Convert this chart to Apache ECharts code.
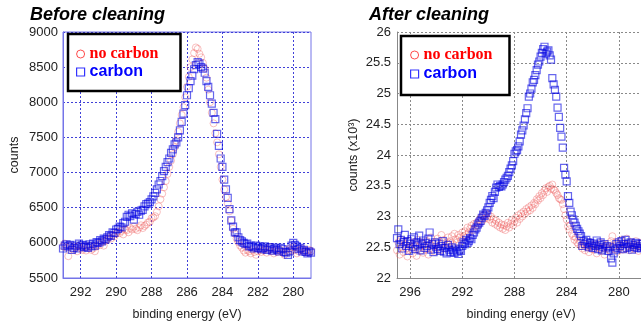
<!DOCTYPE html>
<html>
<head>
<meta charset="utf-8">
<script src="https://cdn.jsdelivr.net/npm/echarts@6/dist/echarts.min.js"></script>
<style>html,body{margin:0;padding:0;background:#fff}#c{width:641px;height:322px}</style>
</head>
<body>
<div id="c"></div>
<script>
// ---------- Left panel: Before cleaning ----------
const leftEnergy = [293.0,
  292.9,292.8,292.7,292.6,292.5,292.4,292.3,292.2,292.1,292.0,
  291.9,291.8,291.7,291.6,291.5,291.4,291.3,291.2,291.1,291.0,
  290.9,290.8,290.7,290.6,290.5,290.4,290.3,290.2,290.1,290.0,
  289.9,289.8,289.7,289.6,289.5,289.4,289.3,289.2,289.1,289.0,
  288.9,288.8,288.7,288.6,288.5,288.4,288.3,288.2,288.1,288.0,
  287.9,287.8,287.7,287.6,287.5,287.4,287.3,287.2,287.1,287.0,
  286.9,286.8,286.7,286.6,286.5,286.4,286.3,286.2,286.1,286.0,
  285.9,285.8,285.7,285.6,285.5,285.4,285.3,285.2,285.1,285.0,
  284.9,284.8,284.7,284.6,284.5,284.4,284.3,284.2,284.1,284.0,
  283.9,283.8,283.7,283.6,283.5,283.4,283.3,283.2,283.1,283.0,
  282.9,282.8,282.7,282.6,282.5,282.4,282.3,282.2,282.1,282.0,
  281.9,281.8,281.7,281.6,281.5,281.4,281.3,281.2,281.1,281.0,
  280.9,280.8,280.7,280.6,280.5,280.4,280.3,280.2,280.1,280.0,
  279.9,279.8,279.7,279.6,279.5,279.4,279.3,279.2,279.1,279.0];

const leftCarbon = [5920,
  5960,5980,5950,5970,5900,5930,5960,5920,5990,5950,
  5970,5940,5960,5930,5980,5950,5990,5960,6010,6000,
  6040,6020,6060,6050,6080,6110,6100,6150,6140,6190,
  6200,6230,6220,6280,6300,6370,6400,6380,6420,6330,
  6410,6440,6400,6460,6470,6520,6550,6560,6580,6620,
  6660,6710,6760,6830,6880,6950,7020,7080,7150,7200,
  7280,7330,7400,7430,7500,7600,7720,7840,7960,8100,
  8200,8300,8380,8470,8530,8570,8550,8500,8480,8420,
  8300,8220,8100,7980,7850,7760,7550,7380,7200,7080,
  6900,6760,6640,6480,6320,6230,6150,6150,6080,6040,
  6020,6000,5980,5990,5950,5960,5940,5920,5960,5930,
  5950,5910,5930,5950,5900,5920,5940,5890,5910,5930,
  5900,5880,5930,5910,5870,5860,5830,5880,5960,6000,
  5970,5950,5910,5930,5880,5900,5870,5850,5880,5860];

const leftNoCarbon = [5950,
  5990,5930,5810,5960,5920,5900,5940,5880,5960,5920,
  5900,5950,5890,5930,5960,5900,5920,5880,5950,5990,
  5970,6010,5960,6030,6050,6080,6060,6110,6090,6130,
  6160,6140,6170,6120,6190,6180,6150,6210,6190,6230,
  6200,6180,6220,6250,6210,6240,6260,6290,6300,6350,
  6360,6380,6440,6520,6620,6700,6790,6880,6980,7080,
  7170,7260,7360,7460,7580,7700,7820,7930,8070,8220,
  8360,8500,8610,8700,8780,8760,8690,8640,8560,8480,
  8350,8180,8000,7850,7700,7560,7430,7260,7080,6900,
  6760,6650,6560,6450,6320,6200,6130,6060,6010,5960,
  5930,5890,5860,5900,5880,5850,5900,5870,5830,5880,
  5910,5870,5890,5920,5860,5900,5940,5880,5850,5900,
  5870,5910,5880,5860,5830,5900,5870,5920,5890,5940,
  5900,5850,5880,5900,5920,5870,5890,5860,5900,5880];

const leftXTicks = [292, 290, 288, 286, 284, 282, 280];

// ---------- Right panel: After cleaning (counts x10^3) ----------
const rightEnergy = [297.0,296.9,296.8,296.7,296.6,296.5,296.4,296.3,296.2,296.1,296.0,
  295.9,295.8,295.7,295.6,295.5,295.4,295.3,295.2,295.1,295.0,
  294.9,294.8,294.7,294.6,294.5,294.4,294.3,294.2,294.1,294.0,
  293.9,293.8,293.7,293.6,293.5,293.4,293.3,293.2,293.1,293.0,
  292.9,292.8,292.7,292.6,292.5,292.4,292.3,292.2,292.1,292.0,
  291.9,291.8,291.7,291.6,291.5,291.4,291.3,291.2,291.1,291.0,
  290.9,290.8,290.7,290.6,290.5,290.4,290.3,290.2,290.1,290.0,
  289.9,289.8,289.7,289.6,289.5,289.4,289.3,289.2,289.1,289.0,
  288.9,288.8,288.7,288.6,288.5,288.4,288.3,288.2,288.1,288.0,
  287.9,287.8,287.7,287.6,287.5,287.4,287.3,287.2,287.1,287.0,
  286.9,286.8,286.7,286.6,286.5,286.4,286.3,286.2,286.1,286.0,
  285.9,285.8,285.7,285.6,285.5,285.4,285.3,285.2,285.1,285.0,
  284.9,284.8,284.7,284.6,284.5,284.4,284.3,284.2,284.1,284.0,
  283.9,283.8,283.7,283.6,283.5,283.4,283.3,283.2,283.1,283.0,
  282.9,282.8,282.7,282.6,282.5,282.4,282.3,282.2,282.1,282.0,
  281.9,281.8,281.7,281.6,281.5,281.4,281.3,281.2,281.1,281.0,
  280.9,280.8,280.7,280.6,280.5,280.4,280.3,280.2,280.1,280.0,
  279.9,279.8,279.7,279.6,279.5,279.4,279.3,279.2,279.1,279.0,
  278.9,278.8,278.7,278.6,278.5,278.4,278.3,278.2,278.1,278.0];

const rightCarbon = [22.65,22.79,22.55,22.62,22.48,22.58,22.70,22.52,22.60,22.44,22.56,
  22.63,22.50,22.66,22.47,22.58,22.53,22.69,22.45,22.55,22.61,
  22.49,22.57,22.52,22.64,22.74,22.46,22.55,22.42,22.58,22.50,
  22.47,22.56,22.44,22.52,22.60,22.43,22.49,22.40,22.54,22.46,
  22.42,22.50,22.45,22.41,22.48,22.43,22.39,22.46,22.44,22.52,
  22.58,22.55,22.62,22.57,22.60,22.65,22.63,22.70,22.74,22.79,
  22.82,22.87,22.90,22.93,22.98,23.03,23.01,23.06,23.10,23.15,
  23.22,23.27,23.33,23.30,23.40,23.47,23.52,23.48,23.50,23.49,
  23.52,23.56,23.60,23.63,23.66,23.72,23.78,23.83,23.90,24.02,
  24.06,24.08,24.14,24.22,24.33,24.40,24.48,24.58,24.68,24.76,
  24.95,25.00,25.08,25.18,25.22,25.30,25.38,25.47,25.52,25.60,
  25.66,25.72,25.76,25.65,25.68,25.70,25.62,25.55,25.25,25.15,
  25.06,24.95,24.77,24.62,24.44,24.30,24.12,23.79,23.68,23.57,
  23.33,23.22,23.08,23.02,22.95,22.90,22.85,22.80,22.76,22.72,
  22.68,22.52,22.60,22.55,22.62,22.58,22.50,22.57,22.53,22.49,
  22.56,22.52,22.61,22.47,22.54,22.58,22.45,22.50,22.55,22.48,
  22.52,22.44,22.50,22.32,22.25,22.40,22.46,22.55,22.49,22.58,
  22.52,22.60,22.47,22.55,22.62,22.49,22.56,22.51,22.58,22.46,
  22.54,22.50,22.57,22.49,22.55,22.52,22.48,22.56,22.50,22.53];

const rightNoCarbon = [22.45,22.58,22.38,22.62,22.50,22.42,22.55,22.48,22.35,22.60,22.52,
  22.47,22.40,22.58,22.52,22.36,22.62,22.49,22.44,22.57,22.41,
  22.53,22.46,22.60,22.38,22.55,22.66,22.48,22.52,22.43,22.59,
  22.64,22.50,22.45,22.70,22.56,22.62,22.48,22.58,22.66,22.54,
  22.60,22.68,22.55,22.72,22.63,22.58,22.70,22.66,22.61,22.74,
  22.68,22.76,22.70,22.82,22.74,22.80,22.85,22.78,22.88,22.84,
  22.90,22.86,22.94,22.98,22.92,23.02,22.96,23.05,22.98,23.03,
  22.95,23.00,22.90,22.96,22.88,22.93,22.85,22.90,22.82,22.87,
  22.80,22.86,22.78,22.84,22.90,22.82,22.88,22.94,22.86,22.92,
  22.98,22.90,23.02,22.96,23.05,23.00,23.08,23.04,23.12,23.08,
  23.15,23.10,23.18,23.14,23.22,23.20,23.28,23.26,23.33,23.30,
  23.38,23.35,23.42,23.46,23.40,23.48,23.50,23.45,23.52,23.44,
  23.42,23.38,23.35,23.30,23.28,23.27,23.20,23.12,23.02,22.95,
  22.84,22.79,22.86,22.72,22.68,22.62,22.66,22.58,22.55,22.60,
  22.52,22.48,22.56,22.45,22.54,22.50,22.42,22.58,22.47,22.53,
  22.46,22.55,22.40,22.52,22.48,22.57,22.44,22.50,22.38,22.53,
  22.49,22.56,22.45,22.60,22.68,22.52,22.47,22.58,22.43,22.55,
  22.50,22.62,22.46,22.55,22.48,22.64,22.52,22.45,22.58,22.50,
  22.54,22.47,22.60,22.52,22.44,22.56,22.50,22.58,22.46,22.52];

const rightXTicks = [296, 292, 288, 284, 280];

// ---------- Build chart ----------
const pair = (xs, ys) => xs.map((x, i) => [x, ys[i]]);
const FONT = 'Liberation Sans';
const redStyle = {color: 'rgba(0,0,0,0)', borderColor: 'rgba(235,80,80,0.45)', borderWidth: 1};
const blueStyle = {color: 'rgba(0,0,0,0)', borderColor: 'rgba(0,0,225,0.75)', borderWidth: 1.2};
const legendData = [
  {name: 'no carbon', icon: 'circle',
   itemStyle: {color: 'rgba(0,0,0,0)', borderColor: '#ff2020', borderWidth: 1},
   textStyle: {color: '#ff0000', fontFamily: 'Liberation Serif', fontWeight: 'bold', fontSize: 16}},
  {name: 'carbon', icon: 'rect',
   itemStyle: {color: 'rgba(0,0,0,0)', borderColor: '#0000ff', borderWidth: 1.2},
   textStyle: {color: '#0000ff', fontFamily: FONT, fontWeight: 'bold', fontSize: 16}}
];
const blueGrid = {show: true, lineStyle: {color: '#4040d8', type: [2, 2], width: 1}};
const grayGrid = {show: true, lineStyle: {color: '#8a8a8a', type: [2, 2], width: 1}};
const lbl = {color: '#222', fontSize: 13, fontFamily: FONT, formatter: v => String(v)};
const nm = {color: '#222', fontSize: 12.5, fontFamily: FONT};

const chart = echarts.init(document.getElementById('c'), null, {renderer: 'canvas'});
chart.setOption({
  animation: false,
  backgroundColor: '#fff',
  title: [
    {text: 'Before cleaning', left: 30, top: 6, padding: 0,
     textStyle: {fontFamily: FONT, fontStyle: 'italic', fontWeight: 'bold', fontSize: 18, color: '#000'}},
    {text: 'After cleaning', left: 369, top: 6, padding: 0,
     textStyle: {fontFamily: FONT, fontStyle: 'italic', fontWeight: 'bold', fontSize: 18, color: '#000'}}
  ],
  legend: [
    {left: 68, top: 34, orient: 'vertical', padding: [12, 22, 11, 8], itemGap: 2,
     itemWidth: 8, itemHeight: 8, borderColor: '#000', borderWidth: 2.5, backgroundColor: '#fff',
     selectedMode: false, data: legendData},
    {left: 401, top: 36, orient: 'vertical', padding: [11, 17, 13, 9], itemGap: 3,
     itemWidth: 8, itemHeight: 8, borderColor: '#000', borderWidth: 2.5, backgroundColor: '#fff',
     selectedMode: false, data: legendData}
  ],
  grid: [
    {left: 63, top: 32, width: 248, height: 246, outerBoundsMode: 'none', containLabel: false,
     show: true, borderColor: '#7474e8', borderWidth: 1},
    {left: 397, top: 32, right: -4, height: 246, outerBoundsMode: 'none', containLabel: false}
  ],
  xAxis: [
    {type: 'value', gridIndex: 0, min: 279, max: 293, inverse: true,
     axisLine: {show: true, lineStyle: {color: '#7474e8'}},
     axisTick: {show: false, customValues: leftXTicks},
     axisLabel: Object.assign({customValues: leftXTicks, margin: 8}, lbl),
     splitLine: blueGrid,
     name: 'binding energy (eV)', nameLocation: 'middle', nameGap: 30, nameTextStyle: nm},
    {type: 'value', gridIndex: 1, min: 278, max: 297, inverse: true,
     axisLine: {show: true, lineStyle: {color: '#888'}},
     axisTick: {show: false, customValues: rightXTicks},
     axisLabel: Object.assign({customValues: rightXTicks, margin: 8}, lbl),
     splitLine: grayGrid,
     name: 'binding energy (eV)', nameLocation: 'middle', nameGap: 30, nameTextStyle: nm}
  ],
  yAxis: [
    {type: 'value', gridIndex: 0, min: 5500, max: 9000, interval: 500,
     axisLine: {show: true, lineStyle: {color: '#7474e8'}},
     axisTick: {show: false},
     axisLabel: Object.assign({margin: 5}, lbl),
     splitLine: blueGrid,
     name: 'counts', nameLocation: 'middle', nameGap: 42, nameTextStyle: nm},
    {type: 'value', gridIndex: 1, min: 22, max: 26, interval: 0.5,
     axisLine: {show: true, lineStyle: {color: '#888'}},
     axisTick: {show: false},
     axisLabel: Object.assign({margin: 6}, lbl),
     splitLine: grayGrid,
     name: 'counts (x10³)', nameLocation: 'middle', nameGap: 37, nameTextStyle: nm}
  ],
  series: [
    {type: 'scatter', name: 'no carbon', xAxisIndex: 0, yAxisIndex: 0, symbol: 'circle', symbolSize: 7,
     itemStyle: redStyle, data: pair(leftEnergy, leftNoCarbon)},
    {type: 'scatter', name: 'carbon', xAxisIndex: 0, yAxisIndex: 0, symbol: 'rect', symbolSize: 7,
     itemStyle: blueStyle, data: pair(leftEnergy, leftCarbon)},
    {type: 'scatter', name: 'no carbon', xAxisIndex: 1, yAxisIndex: 1, symbol: 'circle', symbolSize: 7,
     itemStyle: redStyle, data: pair(rightEnergy, rightNoCarbon)},
    {type: 'scatter', name: 'carbon', xAxisIndex: 1, yAxisIndex: 1, symbol: 'rect', symbolSize: 7,
     itemStyle: blueStyle, data: pair(rightEnergy, rightCarbon)}
  ]
});
</script>
</body>
</html>
